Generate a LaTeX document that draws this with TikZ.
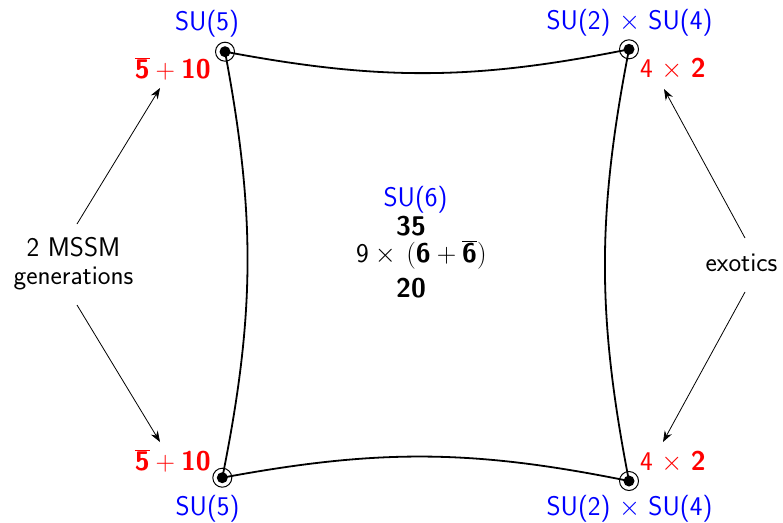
\RequirePackage{fix-cm}
\documentclass[tikz,border=0pt]{standalone}
\usepackage{fontspec}
\usetikzlibrary{arrows.meta}
\tikzset{
 lbl/.style={font=\fontsize{27}{28}\selectfont\sffamily, inner sep=0pt},
 grp/.style={lbl, text=blue},
 rep/.style={lbl, text=red},
 vtx/.style={circle, fill=black, inner sep=0pt, minimum size=11pt},
 ring/.style={circle, draw, line width=1pt, inner sep=0pt, minimum size=19pt},
 edge/.style={line width=1.8pt},
 arr/.style={-{Stealth[length=11pt,width=8pt]}, line width=0.8pt},
}
\newcommand{\bsf}[1]{\mbox{\bfseries #1}}
\begin{document}
\begin{tikzpicture}[x=1pt,y=-1pt]
\useasboundingbox (0,0) rectangle (783,522);
% corners
\foreach \n/\p in {tl/{(225,51.7)}, tr/{(629,49.3)}, bl/{(222.3,477.7)}, br/{(629,481)}}{
  \node[ring] (\n r) at \p {};
  \node[vtx] (\n) at \p {};
}
\draw[edge] (tl.center) to[bend right=11] (tr.center)
            to[bend right=11] (br.center)
            to[bend right=11] (bl.center)
            to[bend right=11] (tl.center);
% labels
\node[grp, anchor=base] (g1) at (207,30.5) {SU(5)};
\node[rep, anchor=base east] (r1) at (211,78.5) {$\overline{\bsf{5}}+\bsf{10}$};
\node[grp, anchor=base] (g2) at (629.5,29.5) {SU(2) $\times$ SU(4)};
\node[rep, anchor=base west] (r2) at (640,77) {4 $\times$ \bsf{2}};
\node[rep, anchor=base east] (r3) at (211,470.7) {$\overline{\bsf{5}}+\bsf{10}$};
\node[grp, anchor=base] (g3) at (207.5,515) {SU(5)};
\node[rep, anchor=base west] (r4) at (640,470) {4 $\times$ \bsf{2}};
\node[grp, anchor=base] (g4) at (629.5,515) {SU(2) $\times$ SU(4)};
% center
\node[grp, anchor=base] (c1) at (415.5,206.7) {SU(6)};
\node[lbl, anchor=base] (c2) at (411,235) {\bsf{35}};
\node[lbl, anchor=base west] (c3) at (356,262) {$\mbox{9}\times\,\Bigl(\bsf{6}+\overline{\bsf{6}}\Bigr)$};
\node[lbl, anchor=base] (c4) at (411,297) {\bsf{20}};
% side labels
\node[lbl, align=center, anchor=base] (gen) at (73.5,284) {2 MSSM\\generations};
\node[lbl, anchor=base] (exo) at (741.5,271) {exotics};
\coordinate (a1) at (77,224);
\coordinate (a2) at (77,305);
\coordinate (a3) at (745,238);
\coordinate (a4) at (745,292);
\coordinate (t1) at (160,88);
\coordinate (t2) at (160,442);
\coordinate (t3) at (664,89);
\coordinate (t4) at (663,442);
\draw[arr] (a1) -- (t1);
\draw[arr] (a2) -- (t2);
\draw[arr] (a3) -- (t3);
\draw[arr] (a4) -- (t4);
\end{tikzpicture}
\end{document}
